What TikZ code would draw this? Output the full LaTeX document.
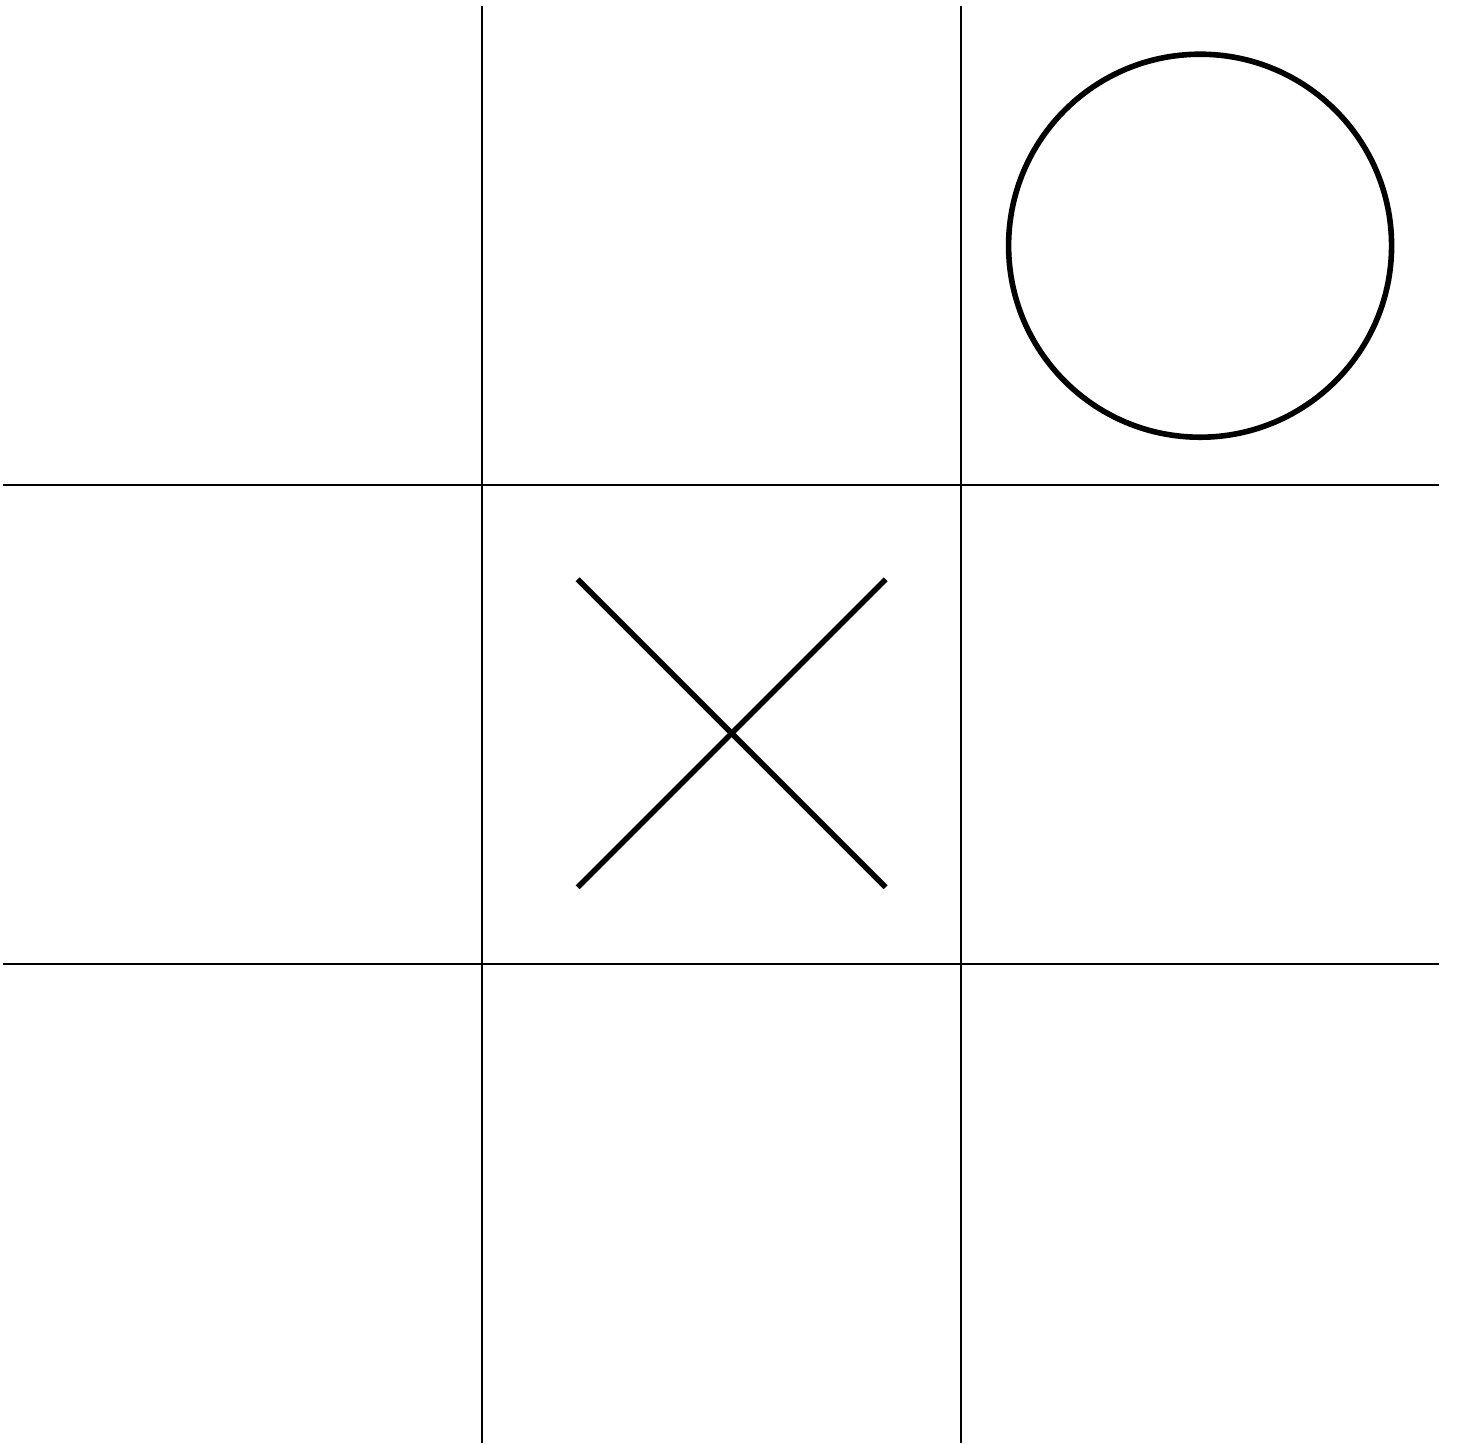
\documentclass[tikz,border=0pt]{standalone}
\usetikzlibrary{positioning}
\definecolor{tttInk}{HTML}{000000}
\tikzset{
  gridline/.style={draw=tttInk, line width=0.4pt},
  markline/.style={draw=tttInk, line width=1pt, line cap=butt}
}

\begin{document}
\begin{tikzpicture}
        \useasboundingbox (-0.02,-0.01) rectangle (9.11,9.04);
        % board
        \foreach \k in {3,6} {
          \draw[gridline] (\k,0) -- (\k,9);
          \draw[gridline] (0,\k) -- (9,\k);
        }
        % marks
        \coordinate (oCentre) at (7.5,7.5);
        \draw[markline] (oCentre) circle (1.2);
        \coordinate (xA) at (3.6,3.48);
        \coordinate (xB) at (5.53,5.41);
        \coordinate (xC) at (3.6,5.41);
        \coordinate (xD) at (5.53,3.48);
        \draw[markline] (xA) -- (xB);
        \draw[markline] (xC) -- (xD);
      \end{tikzpicture}
\end{document}
